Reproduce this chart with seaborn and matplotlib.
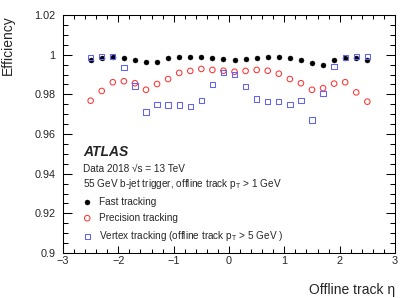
import seaborn as sns
import matplotlib
matplotlib.use('Agg')
import matplotlib.pyplot as plt
import matplotlib.ticker as mticker
import pandas as pd

# offline track eta bin centres
eta = [-2.5, -2.3, -2.1, -1.9, -1.7, -1.5, -1.3, -1.1, -0.9, -0.7, -0.5, -0.3, -0.1,
       0.1, 0.3, 0.5, 0.7, 0.9, 1.1, 1.3, 1.5, 1.7, 1.9, 2.1, 2.3, 2.5]

fast_eff = [0.9975, 0.9983, 0.9988, 0.9983, 0.9971, 0.9961, 0.9965, 0.9981, 0.9988,
            0.9988, 0.9988, 0.9983, 0.9980, 0.9975, 0.9978, 0.9983, 0.9988, 0.9986,
            0.9981, 0.9971, 0.9960, 0.9950, 0.9975, 0.9985, 0.9983, 0.9975]

precision_eff = [0.9768, 0.9817, 0.9861, 0.9866, 0.9856, 0.9823, 0.9852, 0.9877, 0.9908,
                 0.9918, 0.9928, 0.9923, 0.9919, 0.9914, 0.9918, 0.9923, 0.9919, 0.9904,
                 0.9877, 0.9856, 0.9823, 0.9831, 0.9854, 0.9861, 0.9810, 0.9763]

vertex_eff = [0.9987, 0.9990, 0.9990, 0.9934, 0.9842, 0.9710, 0.9748, 0.9746, 0.9746,
              0.9738, 0.9768, 0.9849, 0.9909, 0.9899, 0.9839, 0.9777, 0.9763, 0.9763,
              0.9750, 0.9770, 0.9671, 0.9803, 0.9939, 0.9985, 0.9990, 0.9990]

labels = ['Fast tracking', 'Precision tracking',
          'Vertex tracking (offline track p$_{\\mathrm{T}}$ > 5 GeV )']


def atlas_settings():
    '''
    ROOT / ATLAS-like look on top of the seaborn ticks style
    '''
    sns.set_style('ticks')
    plt.rcParams['font.family'] = ['Liberation Sans', 'DejaVu Sans']
    plt.rcParams['mathtext.fontset'] = 'custom'
    plt.rcParams['mathtext.rm'] = 'Liberation Sans'
    plt.rcParams['mathtext.it'] = 'Liberation Sans:italic'
    plt.rcParams['axes.linewidth'] = 0.75
    plt.rcParams['axes.edgecolor'] = 'black'


atlas_settings()

df = pd.DataFrame({'eta': eta, 'fast': fast_eff,
                   'precision': precision_eff, 'vertex': vertex_eff})

fig = plt.figure(figsize=(4.15, 2.98), dpi=100)
ax = fig.add_axes([63 / 415, 45 / 298, 332 / 415, 238 / 298])

sns.scatterplot(data=df, x='eta', y='fast', ax=ax, marker='o', s=13,
                color='black', edgecolor='black', linewidth=0.3, label=labels[0])
sns.scatterplot(data=df, x='eta', y='precision', ax=ax, marker='o', s=16,
                color='#ff2a2a', facecolor='none', edgecolor='#ff3333',
                linewidth=0.75, label=labels[1])
sns.scatterplot(data=df, x='eta', y='vertex', ax=ax, marker='s', s=15,
                color='#5c5cff', facecolor='none', edgecolor='#6262f5',
                linewidth=0.75, label=labels[2])

ax.set_xlim(-3, 3)
ax.set_ylim(0.9, 1.02)
ax.xaxis.set_major_locator(mticker.MultipleLocator(1))
ax.xaxis.set_minor_locator(mticker.MultipleLocator(0.2))
ax.yaxis.set_major_locator(mticker.MultipleLocator(0.02))
ax.yaxis.set_minor_locator(mticker.MultipleLocator(0.005))
ax.xaxis.set_major_formatter(mticker.FuncFormatter(
    lambda v, p: f'{v:g}'.replace('-', '\u2212')))
ax.yaxis.set_major_formatter(mticker.FuncFormatter(lambda v, p: f'{round(v, 4):g}'))

ax.tick_params(which='both', direction='in', top=True, right=True,
               labelsize=7.8, width=0.75, color='black')
ax.tick_params(axis='x', which='major', length=5.3, pad=2.5)
ax.tick_params(axis='x', which='minor', length=3)
ax.tick_params(axis='y', which='major', length=6.7, pad=5.5)
ax.tick_params(axis='y', which='minor', length=3.6)

ax.set_xlabel('Offline track η', fontsize=10, ha='right', x=1.0, labelpad=12)
ax.set_ylabel('Efficiency', fontsize=10, ha='right', y=1.0, labelpad=14)

# ATLAS label and run info
ax.text(0.06, 0.426, 'ATLAS', transform=ax.transAxes, fontsize=10,
        fontweight='bold', fontstyle='italic', va='center')
ax.text(0.061, 0.352, 'Data 2018 √s = 13 TeV', transform=ax.transAxes,
        fontsize=7.2, va='center')
ax.text(0.061, 0.29, '55 GeV b-jet trigger, offline track p$_{\\mathrm{T}}$ > 1 GeV',
        transform=ax.transAxes, fontsize=7.2, va='center')

ax.legend(loc='upper left', bbox_to_anchor=(0.058, 0.237), frameon=False,
          fontsize=7.2, handlelength=1.0, handletextpad=0.7, labelspacing=0.62,
          borderpad=0, borderaxespad=0)

plt.savefig('out.png', dpi=100)
plt.close()
